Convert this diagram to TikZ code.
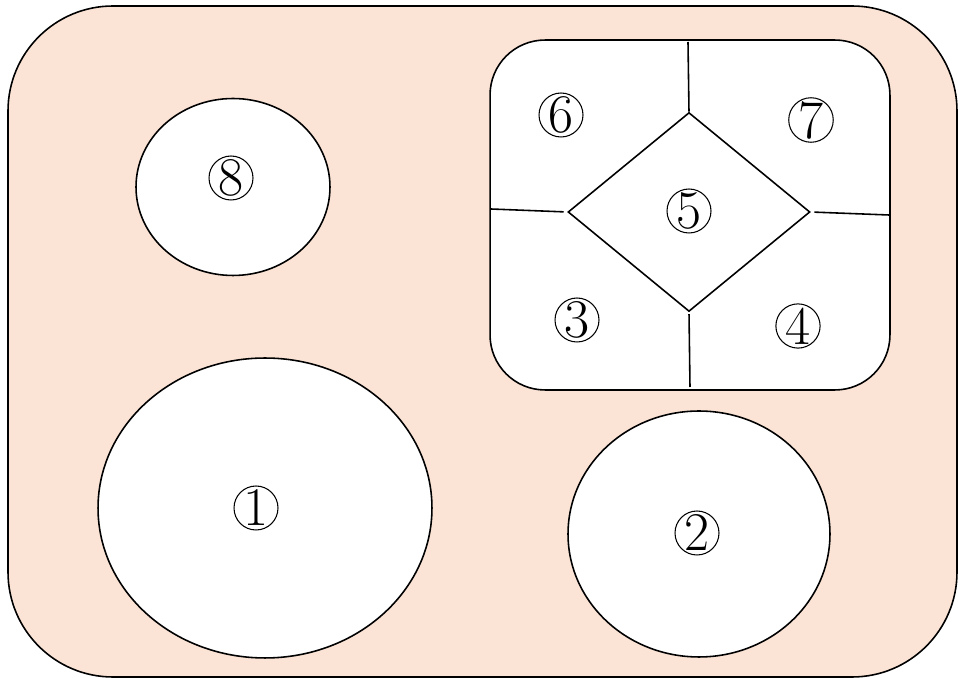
\documentclass[tikz,border=0pt]{standalone}
\usepackage{xcolor}
\usepackage{tikz}
\usetikzlibrary{shapes,positioning,calc}

\definecolor{peach}{RGB}{251,228,214}

\begin{document}
\begin{tikzpicture}[x=0.02cm, y=-0.02cm,
    region/.style={ellipse, draw=black, line width=0.9pt, fill=white, inner sep=0pt},
    panel/.style={rectangle, rounded corners=1.1cm, draw=black, line width=0.9pt, fill=white, minimum width=8cm, minimum height=7cm},
    rhomb/.style={diamond, draw=black, line width=0.9pt, inner sep=0pt, minimum width=4.84cm, minimum height=3.98cm},
    num/.style={circle, draw=black, line width=0.6pt, inner sep=0pt, minimum size=0.88cm, text depth=0pt, font=\fontsize{31}{32}\selectfont},
    wall/.style={line width=0.9pt}]

\useasboundingbox (0,0) rectangle (958,678);
\clip (0,0) rectangle (958,678);

% Outer area, runs up to the right and bottom edge
\draw[line width=0.9pt, fill=peach, rounded corners=2.1cm] (8,6) rectangle (957,677);

% Free-standing regions
\node[region, minimum width=3.88cm, minimum height=3.54cm] (top) at (233,187) {};
\node[region, minimum width=6.68cm, minimum height=6cm] (big) at (265,508) {};
\node[region, minimum width=5.24cm, minimum height=4.92cm] (right) at (699,534) {};

% Split panel with the diamond in the middle
\node[panel] (box) at (690,215) {};
\node[rhomb] (dia) at (689,212) {};

\coordinate (ntop) at (688,42);
\coordinate (nbot) at (690,387);
\coordinate (wleft) at (491,209);
\coordinate (wright) at (889,215);

\draw[wall] (dia.north) -- (ntop);
\draw[wall, shorten <=1pt] (dia.south) -- (nbot);
\draw[wall, shorten <=2pt] (dia.west) -- (wleft);
\draw[wall, shorten <=2pt] (dia.east) -- (wright);

% Labels
\node[num] (n1) at (256,508) {1};
\node[num] (n2) at (697,533) {2};
\node[num] (n3) at (577,320) {3};
\node[num] (n4) at (798,326) {4};
\node[num] (n5) at (689,211) {5};
\node[num] (n6) at (561,115) {6};
\node[num] (n7) at (811,120) {7};
\node[num] (n8) at (231,178) {8};

\end{tikzpicture}
\end{document}
